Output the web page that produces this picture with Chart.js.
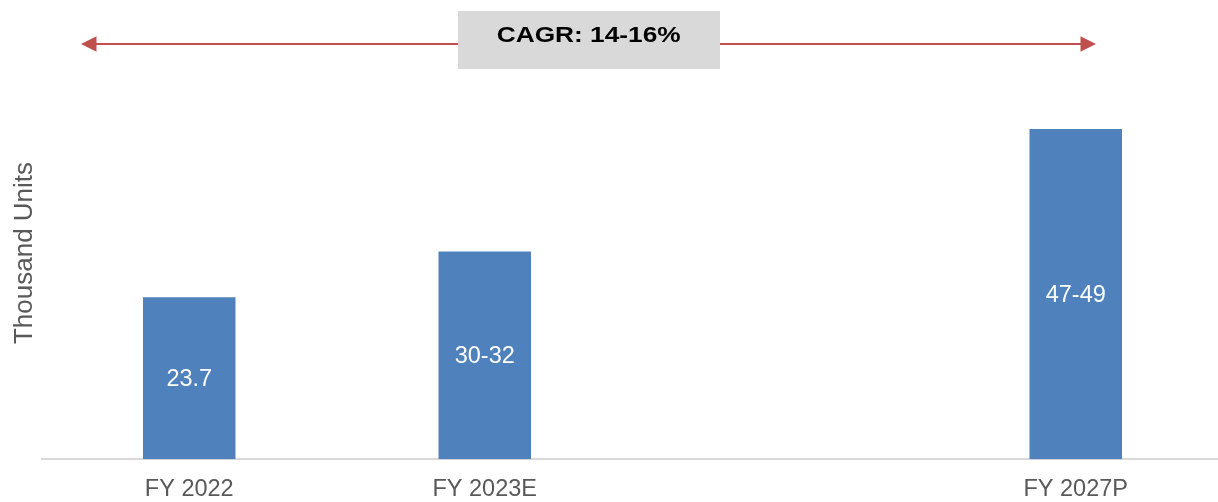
<!DOCTYPE html>
<html>
<head>
<meta charset="utf-8">
<script src="https://cdn.jsdelivr.net/npm/chart.js@4.4.1/dist/chart.umd.min.js"></script>
<style>
  html, body { margin: 0; padding: 0; background: #ffffff; overflow: hidden; }
  #wrap { position: relative; width: 1224px; height: 523px; }
</style>
</head>
<body>
<div id="wrap"><canvas id="c"></canvas></div>
<script>
const categories = ['FY 2022', 'FY 2023E', '', 'FY 2027P'];
const values = [23.7, 30.4, null, 48.3];
const valueLabels = ['23.7', '30-32', '', '47-49'];
const yAxisTitle = 'Thousand Units';
const cagrText = 'CAGR: 14-16%';

const FONT = '"Liberation Sans", Arial, Helvetica, sans-serif';

const overlay = {
  id: 'overlay',
  afterDatasetsDraw(chart) {
    const ctx = chart.ctx;
    const meta = chart.getDatasetMeta(0);
    ctx.save();
    ctx.fillStyle = '#ffffff';
    ctx.font = '23.5px ' + FONT;
    ctx.textAlign = 'center';
    ctx.textBaseline = 'middle';
    meta.data.forEach((bar, i) => {
      if (values[i] == null) return;
      const p = bar.getProps(['x', 'y', 'base'], true);
      ctx.fillText(valueLabels[i], p.x, (p.y + p.base) / 2 + 1);
    });
    ctx.restore();
  },
  afterDraw(chart) {
    const ctx = chart.ctx;

    ctx.save();
    ctx.fillStyle = '#595959';
    ctx.font = '26px ' + FONT;
    ctx.textAlign = 'center';
    ctx.textBaseline = 'alphabetic';
    ctx.translate(32.3, 253);
    ctx.rotate(-Math.PI / 2);
    ctx.fillText(yAxisTitle, 0, 0);
    ctx.restore();

    const y = 44, x1 = 81, x2 = 1096, hl = 15.5, hw = 7.8;
    ctx.save();
    ctx.strokeStyle = '#c0504d';
    ctx.fillStyle = '#c0504d';
    ctx.lineWidth = 2.2;
    ctx.beginPath();
    ctx.moveTo(x1 + hl - 1, y);
    ctx.lineTo(x2 - hl + 1, y);
    ctx.stroke();
    ctx.beginPath();
    ctx.moveTo(x1, y);
    ctx.lineTo(x1 + hl, y - hw);
    ctx.lineTo(x1 + hl, y + hw);
    ctx.closePath();
    ctx.fill();
    ctx.beginPath();
    ctx.moveTo(x2, y);
    ctx.lineTo(x2 - hl, y - hw);
    ctx.lineTo(x2 - hl, y + hw);
    ctx.closePath();
    ctx.fill();
    ctx.fillStyle = '#d9d9d9';
    ctx.fillRect(458, 11, 262, 58);
    ctx.fillStyle = '#000000';
    ctx.font = 'bold 22.5px ' + FONT;
    ctx.textAlign = 'left';
    ctx.textBaseline = 'alphabetic';
    const w = ctx.measureText(cagrText).width;
    const target = 184;
    ctx.translate(496.7, 41.7);
    ctx.scale(target / w, 1);
    ctx.fillText(cagrText, 0, 0);
    ctx.restore();
  }
};

new Chart(document.getElementById('c'), {
  type: 'bar',
  data: {
    labels: categories,
    datasets: [{
      data: values,
      backgroundColor: '#4f81bd',
      borderWidth: 0,
      categoryPercentage: 1.0,
      barPercentage: 0.313
    }]
  },
  options: {
    responsive: true,
    maintainAspectRatio: false,
    animation: false,
    layout: { padding: { left: 41.5, right: 0.5, top: 49, bottom: 2.5 } },
    plugins: { legend: { display: false }, tooltip: { enabled: false } },
    scales: {
      x: {
        grid: { display: false, drawTicks: false },
        border: { display: true, color: '#d9d9d9', width: 2 },
        ticks: {
          color: '#595959',
          font: { family: FONT, size: 23.5 },
          padding: 16.5,
          maxRotation: 0,
          autoSkip: false
        }
      },
      y: {
        display: false,
        min: 0,
        max: 60
      }
    }
  },
  plugins: [overlay]
});
</script>
</body>
</html>
